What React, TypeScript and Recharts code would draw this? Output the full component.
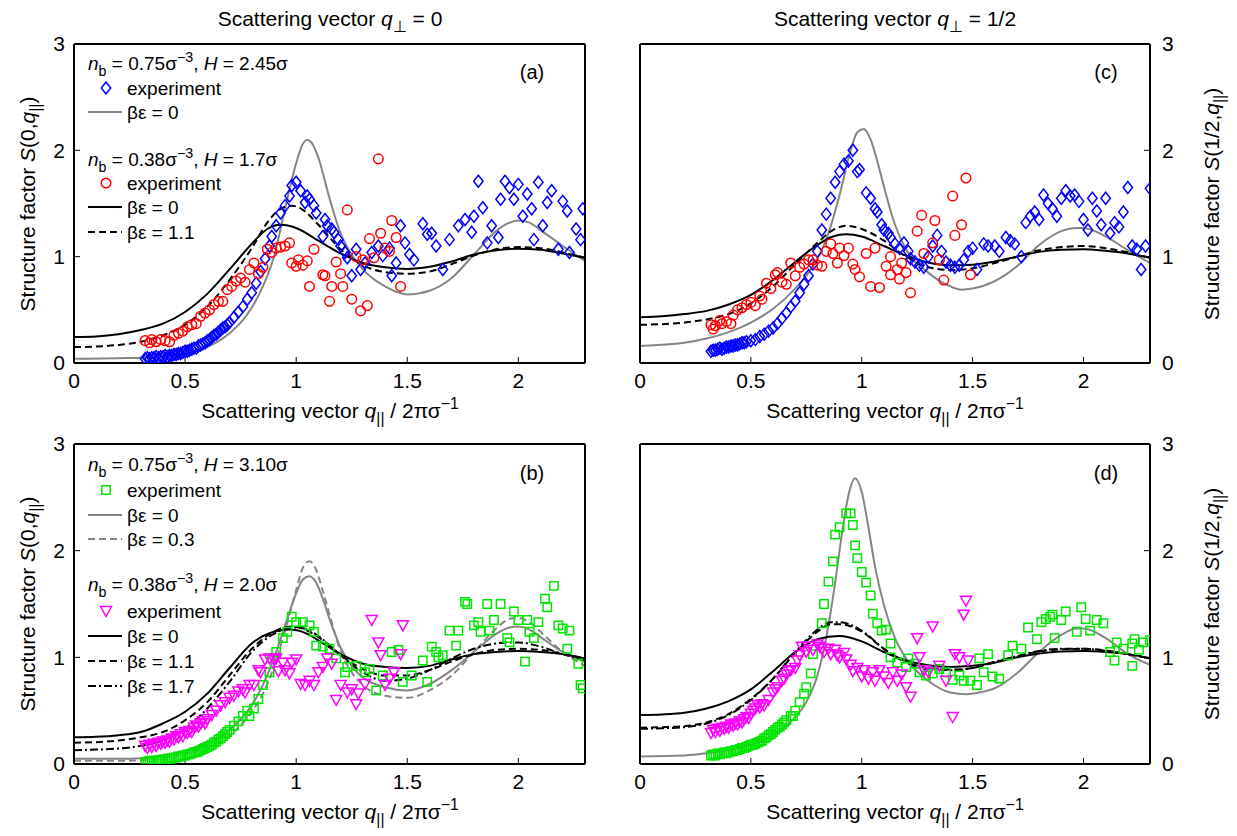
import React from "react";
import { ComposedChart, Line, Scatter, XAxis, YAxis } from "recharts";

type Pt = [number, number];

const FONT = '"Liberation Sans", Arial, Helvetica, sans-serif';

const xTicks = [0, 0.5, 1, 1.5, 2];
const yTicks = [0, 1, 2, 3];
const xDomain: [number, number] = [0, 2.3];
const yDomain: [number, number] = [0, 3];

// ---- (a) q_perp = 0, top row ----
const aGray: Pt[] = [[0,0.04],[0.2,0.045],[0.3,0.05],[0.4,0.065],[0.5,0.09],[0.6,0.15],[0.7,0.28],[0.75,0.38],[0.8,0.52],[0.85,0.72],[0.9,1.0],[0.95,1.45],[1.0,1.88],[1.03,2.06],[1.05,2.1],[1.07,2.07],[1.1,1.93],[1.15,1.55],[1.2,1.22],[1.25,1.02],[1.3,0.88],[1.4,0.72],[1.5,0.645],[1.6,0.68],[1.7,0.8],[1.8,1.02],[1.9,1.24],[1.95,1.31],[2.0,1.34],[2.05,1.32],[2.1,1.25],[2.2,1.1],[2.3,0.96]];
const aBlack: Pt[] = [[0,0.245],[0.1,0.25],[0.2,0.27],[0.3,0.31],[0.4,0.37],[0.5,0.48],[0.6,0.65],[0.7,0.88],[0.8,1.12],[0.87,1.26],[0.93,1.3],[1.0,1.27],[1.1,1.15],[1.2,1.03],[1.3,0.94],[1.4,0.9],[1.5,0.885],[1.6,0.905],[1.7,0.955],[1.8,1.02],[1.9,1.06],[2.0,1.075],[2.1,1.065],[2.2,1.03],[2.3,0.99]];
const aDash: Pt[] = [[0,0.15],[0.1,0.155],[0.2,0.17],[0.3,0.2],[0.4,0.26],[0.5,0.36],[0.6,0.53],[0.7,0.78],[0.8,1.08],[0.87,1.32],[0.93,1.45],[0.98,1.48],[1.03,1.44],[1.1,1.3],[1.2,1.07],[1.3,0.92],[1.4,0.855],[1.5,0.84],[1.6,0.86],[1.7,0.93],[1.8,1.01],[1.9,1.07],[2.0,1.09],[2.1,1.08],[2.2,1.04],[2.3,0.99]];
const aBlue: Pt[] = [[0.32,0.04],[0.33,0.05],[0.34,0.04],[0.35,0.05],[0.36,0.05],[0.37,0.06],[0.38,0.05],[0.39,0.06],[0.4,0.06],[0.41,0.07],[0.42,0.06],[0.43,0.07],[0.44,0.07],[0.45,0.08],[0.46,0.08],[0.47,0.09],[0.48,0.09],[0.49,0.1],[0.5,0.11],[0.51,0.11],[0.52,0.12],[0.53,0.13],[0.54,0.14],[0.55,0.14],[0.56,0.16],[0.57,0.17],[0.58,0.18],[0.59,0.19],[0.6,0.21],[0.61,0.22],[0.62,0.24],[0.63,0.26],[0.64,0.27],[0.65,0.29],[0.66,0.31],[0.67,0.33],[0.68,0.34],[0.69,0.36],[0.7,0.38],[0.72,0.43],[0.74,0.48],[0.76,0.53],[0.78,0.6],[0.8,0.66],[0.82,0.75],[0.84,0.86],[0.86,0.98],[0.88,1.1],[0.89,1.19],[0.91,1.29],[0.93,1.41],[0.95,1.48],[0.97,1.57],[0.98,1.67],[1.0,1.7],[1.02,1.62],[1.04,1.51],[1.05,1.57],[1.06,1.54],[1.08,1.48],[1.09,1.41],[1.12,1.19],[1.13,1.35],[1.14,1.29],[1.16,1.26],[1.17,1.23],[1.19,1.16],[1.2,1.1],[1.22,1.04],[1.23,0.99],[1.25,0.82],[1.27,1.07],[1.29,0.88],[1.31,0.94],[1.34,1.04],[1.37,1.1],[1.39,1.01],[1.42,1.08],[1.43,0.82],[1.45,0.94],[1.47,1.29],[1.49,1.13],[1.51,1.02],[1.53,0.97],[1.57,1.31],[1.59,1.21],[1.61,1.22],[1.63,1.1],[1.66,0.88],[1.69,1.16],[1.73,1.29],[1.76,1.35],[1.79,1.23],[1.8,1.38],[1.82,1.71],[1.84,1.46],[1.86,1.13],[1.88,1.29],[1.91,1.18],[1.92,1.54],[1.94,1.71],[1.96,1.65],[1.98,1.54],[2.0,1.68],[2.02,1.38],[2.04,1.59],[2.06,1.45],[2.07,1.16],[2.09,1.7],[2.11,1.29],[2.13,1.51],[2.15,1.62],[2.18,1.07],[2.2,1.52],[2.22,1.43],[2.23,1.04],[2.26,1.26],[2.28,1.16],[2.29,1.45]];
const aRed: Pt[] = [[0.32,0.21],[0.34,0.19],[0.35,0.22],[0.37,0.2],[0.39,0.22],[0.41,0.21],[0.43,0.2],[0.45,0.26],[0.47,0.28],[0.49,0.3],[0.51,0.34],[0.53,0.36],[0.55,0.37],[0.57,0.44],[0.59,0.47],[0.61,0.5],[0.63,0.55],[0.65,0.58],[0.67,0.58],[0.69,0.69],[0.71,0.72],[0.73,0.77],[0.75,0.8],[0.77,0.76],[0.79,0.88],[0.81,0.94],[0.83,0.84],[0.85,0.9],[0.87,1.07],[0.89,1.04],[0.91,1.08],[0.93,1.09],[0.95,1.1],[0.97,1.13],[0.98,0.94],[1.0,0.91],[1.01,0.97],[1.03,0.92],[1.05,0.96],[1.06,0.72],[1.08,1.07],[1.12,0.83],[1.13,0.82],[1.15,0.58],[1.16,0.72],[1.18,0.95],[1.2,0.84],[1.21,0.72],[1.23,1.44],[1.25,0.6],[1.27,1.0],[1.29,0.49],[1.3,0.97],[1.32,0.54],[1.33,1.17],[1.35,0.99],[1.37,1.92],[1.38,1.22],[1.4,1.08],[1.42,1.05],[1.43,1.34],[1.45,1.18],[1.47,0.72]];

// ---- (c) q_perp = 1/2, top row ----
const cGray: Pt[] = [[0,0.16],[0.2,0.19],[0.3,0.23],[0.4,0.29],[0.5,0.38],[0.6,0.51],[0.7,0.7],[0.75,0.82],[0.8,0.98],[0.85,1.22],[0.9,1.58],[0.95,2.0],[0.98,2.17],[1.01,2.2],[1.04,2.1],[1.07,1.9],[1.1,1.66],[1.15,1.3],[1.2,1.07],[1.3,0.85],[1.4,0.72],[1.45,0.69],[1.5,0.7],[1.6,0.77],[1.7,0.91],[1.8,1.11],[1.9,1.24],[1.97,1.27],[2.0,1.27],[2.1,1.19],[2.2,1.06],[2.3,0.94]];
const cBlack: Pt[] = [[0,0.43],[0.1,0.44],[0.2,0.46],[0.3,0.49],[0.4,0.55],[0.5,0.64],[0.6,0.78],[0.7,0.95],[0.8,1.11],[0.87,1.19],[0.93,1.21],[1.0,1.19],[1.1,1.1],[1.2,1.01],[1.3,0.945],[1.4,0.92],[1.5,0.925],[1.6,0.955],[1.7,1.0],[1.8,1.045],[1.9,1.065],[2.0,1.07],[2.1,1.055],[2.2,1.03],[2.3,0.99]];
const cDash: Pt[] = [[0,0.36],[0.1,0.365],[0.2,0.38],[0.3,0.41],[0.4,0.46],[0.5,0.56],[0.6,0.72],[0.7,0.93],[0.8,1.13],[0.87,1.25],[0.93,1.29],[1.0,1.26],[1.1,1.15],[1.2,1.0],[1.3,0.9],[1.4,0.875],[1.5,0.89],[1.6,0.94],[1.7,1.0],[1.8,1.06],[1.9,1.09],[2.0,1.1],[2.1,1.08],[2.2,1.04],[2.3,0.99]];
const cBlue: Pt[] = [[0.32,0.11],[0.33,0.12],[0.34,0.12],[0.35,0.13],[0.36,0.14],[0.37,0.13],[0.38,0.14],[0.39,0.15],[0.4,0.15],[0.41,0.16],[0.42,0.16],[0.43,0.17],[0.44,0.17],[0.45,0.18],[0.46,0.19],[0.47,0.19],[0.48,0.2],[0.5,0.21],[0.52,0.22],[0.54,0.25],[0.56,0.27],[0.58,0.3],[0.6,0.33],[0.62,0.37],[0.64,0.42],[0.66,0.47],[0.68,0.53],[0.7,0.58],[0.72,0.66],[0.74,0.74],[0.76,0.82],[0.78,0.93],[0.8,1.05],[0.82,1.25],[0.84,1.4],[0.86,1.55],[0.88,1.7],[0.9,1.8],[0.92,1.87],[0.94,1.9],[0.96,2.0],[0.98,1.8],[0.99,1.82],[1.02,1.6],[1.04,1.55],[1.06,1.45],[1.07,1.42],[1.09,1.3],[1.1,1.25],[1.12,1.22],[1.13,1.18],[1.15,1.12],[1.17,1.08],[1.19,1.13],[1.21,1.05],[1.22,0.98],[1.24,0.95],[1.26,0.92],[1.28,0.9],[1.3,1.0],[1.32,1.1],[1.34,1.2],[1.36,1.05],[1.38,0.95],[1.4,0.92],[1.42,0.9],[1.44,0.92],[1.46,0.97],[1.48,1.05],[1.5,1.08],[1.52,0.88],[1.55,1.12],[1.57,1.1],[1.6,1.1],[1.62,1.05],[1.65,1.18],[1.67,1.15],[1.69,1.12],[1.72,1.0],[1.74,1.32],[1.76,1.38],[1.78,1.42],[1.8,1.35],[1.82,1.58],[1.84,1.5],[1.86,1.45],[1.88,1.38],[1.9,1.55],[1.92,1.62],[1.94,1.57],[1.96,1.58],[1.98,1.52],[2.0,1.35],[2.02,1.25],[2.04,1.55],[2.06,1.43],[2.08,1.3],[2.1,1.55],[2.12,1.22],[2.14,1.32],[2.16,1.28],[2.18,1.42],[2.2,1.65],[2.22,1.1],[2.24,1.07],[2.26,0.88],[2.28,1.1],[2.3,1.64]];
const cRed: Pt[] = [[0.32,0.36],[0.33,0.32],[0.34,0.35],[0.36,0.4],[0.37,0.37],[0.39,0.39],[0.41,0.37],[0.42,0.45],[0.44,0.5],[0.46,0.52],[0.48,0.55],[0.5,0.57],[0.52,0.54],[0.54,0.63],[0.55,0.6],[0.57,0.75],[0.59,0.7],[0.61,0.83],[0.62,0.85],[0.64,0.76],[0.66,0.74],[0.68,0.94],[0.7,0.82],[0.72,0.9],[0.74,0.93],[0.76,0.97],[0.78,0.97],[0.8,0.92],[0.82,0.91],[0.84,1.05],[0.86,1.12],[0.87,1.03],[0.89,0.94],[0.9,1.08],[0.92,1.01],[0.94,1.08],[0.96,0.93],[0.97,0.88],[0.99,0.81],[1.02,1.03],[1.04,0.72],[1.06,1.08],[1.08,0.71],[1.11,0.91],[1.13,0.83],[1.13,1.0],[1.16,0.88],[1.17,0.79],[1.18,0.94],[1.2,0.85],[1.22,0.66],[1.25,1.24],[1.27,1.39],[1.28,1.03],[1.32,1.13],[1.33,1.34],[1.35,0.97],[1.37,0.78],[1.41,1.57],[1.42,1.2],[1.45,1.3],[1.47,1.74],[1.49,0.83]];

// ---- (b) q_perp = 0, bottom row ----
const bGray: Pt[] = [[0,0.05],[0.2,0.05],[0.3,0.055],[0.4,0.08],[0.5,0.12],[0.6,0.19],[0.7,0.32],[0.75,0.42],[0.8,0.55],[0.85,0.74],[0.9,0.99],[0.95,1.3],[1.0,1.6],[1.03,1.73],[1.06,1.76],[1.09,1.7],[1.12,1.55],[1.15,1.36],[1.2,1.09],[1.25,0.92],[1.3,0.81],[1.4,0.72],[1.5,0.69],[1.6,0.75],[1.7,0.88],[1.8,1.05],[1.9,1.22],[1.96,1.28],[2.0,1.29],[2.05,1.26],[2.1,1.19],[2.2,1.05],[2.3,0.96]];
const bGrayDash: Pt[] = [[0,0.03],[0.2,0.03],[0.3,0.035],[0.4,0.06],[0.5,0.1],[0.6,0.16],[0.7,0.27],[0.75,0.36],[0.8,0.49],[0.85,0.66],[0.9,0.91],[0.95,1.25],[1.0,1.63],[1.03,1.84],[1.06,1.9],[1.09,1.82],[1.12,1.62],[1.15,1.4],[1.2,1.06],[1.25,0.86],[1.3,0.74],[1.4,0.64],[1.5,0.62],[1.6,0.69],[1.7,0.83],[1.8,1.05],[1.9,1.27],[1.96,1.36],[2.0,1.37],[2.05,1.33],[2.1,1.24],[2.2,1.05],[2.3,0.92]];
const bBlack: Pt[] = [[0,0.25],[0.1,0.255],[0.2,0.27],[0.3,0.3],[0.4,0.38],[0.5,0.49],[0.6,0.66],[0.7,0.9],[0.8,1.13],[0.9,1.24],[0.97,1.26],[1.05,1.22],[1.1,1.16],[1.2,1.03],[1.3,0.94],[1.4,0.91],[1.5,0.9],[1.6,0.92],[1.7,0.98],[1.8,1.03],[1.9,1.05],[2.0,1.06],[2.1,1.05],[2.2,1.03],[2.3,0.99]];
const bDash: Pt[] = [[0,0.2],[0.1,0.205],[0.2,0.22],[0.3,0.25],[0.4,0.3],[0.5,0.41],[0.6,0.58],[0.7,0.83],[0.8,1.08],[0.9,1.24],[0.98,1.29],[1.05,1.25],[1.1,1.19],[1.2,1.02],[1.3,0.89],[1.4,0.83],[1.5,0.83],[1.6,0.88],[1.7,0.96],[1.8,1.03],[1.9,1.07],[2.0,1.08],[2.1,1.07],[2.2,1.03],[2.3,0.99]];
const bDashDot: Pt[] = [[0,0.13],[0.1,0.135],[0.2,0.145],[0.3,0.17],[0.4,0.22],[0.5,0.33],[0.6,0.52],[0.7,0.77],[0.8,1.05],[0.9,1.22],[1.0,1.28],[1.05,1.26],[1.1,1.2],[1.2,1.02],[1.3,0.86],[1.4,0.78],[1.5,0.8],[1.6,0.88],[1.7,0.99],[1.8,1.08],[1.9,1.13],[1.95,1.14],[2.0,1.14],[2.1,1.1],[2.2,1.03],[2.3,0.97]];
const bGreen: Pt[] = [[0.32,0.02],[0.33,0.02],[0.34,0.03],[0.35,0.02],[0.36,0.03],[0.37,0.03],[0.38,0.03],[0.39,0.04],[0.4,0.04],[0.41,0.04],[0.42,0.05],[0.43,0.05],[0.44,0.05],[0.45,0.06],[0.46,0.06],[0.47,0.07],[0.48,0.07],[0.49,0.08],[0.5,0.08],[0.51,0.09],[0.52,0.09],[0.53,0.1],[0.54,0.11],[0.55,0.11],[0.56,0.12],[0.57,0.13],[0.58,0.14],[0.59,0.15],[0.6,0.16],[0.61,0.17],[0.62,0.18],[0.63,0.2],[0.64,0.21],[0.65,0.23],[0.66,0.24],[0.67,0.26],[0.68,0.28],[0.69,0.3],[0.7,0.32],[0.72,0.36],[0.74,0.4],[0.76,0.45],[0.78,0.5],[0.79,0.45],[0.81,0.52],[0.83,0.61],[0.85,0.74],[0.88,0.86],[0.89,0.99],[0.91,1.05],[0.94,1.18],[0.96,1.24],[0.98,1.38],[1.0,1.33],[1.03,1.33],[1.06,1.3],[1.08,1.24],[1.09,1.11],[1.12,1.1],[1.15,1.08],[1.18,0.99],[1.22,0.86],[1.23,0.91],[1.27,0.92],[1.31,0.86],[1.33,0.89],[1.36,0.69],[1.39,0.83],[1.43,1.05],[1.46,1.07],[1.48,0.77],[1.52,0.83],[1.57,0.97],[1.59,0.77],[1.61,1.1],[1.63,1.05],[1.64,1.0],[1.66,1.02],[1.69,1.25],[1.72,1.11],[1.73,1.25],[1.76,1.52],[1.77,1.5],[1.8,1.3],[1.82,1.33],[1.83,1.24],[1.86,1.5],[1.87,1.25],[1.89,1.35],[1.92,1.5],[1.95,1.18],[1.96,1.14],[1.98,1.43],[2.0,1.35],[2.03,0.96],[2.04,1.35],[2.05,1.24],[2.07,1.18],[2.09,1.33],[2.12,1.55],[2.13,1.47],[2.16,1.67],[2.18,1.3],[2.2,1.27],[2.22,1.08],[2.23,1.25],[2.27,0.94],[2.28,0.74],[2.29,0.71]];
const bMagenta: Pt[] = [[0.32,0.17],[0.33,0.15],[0.34,0.18],[0.35,0.16],[0.36,0.19],[0.37,0.17],[0.38,0.2],[0.39,0.19],[0.4,0.21],[0.41,0.2],[0.42,0.22],[0.43,0.21],[0.44,0.24],[0.45,0.23],[0.46,0.26],[0.47,0.25],[0.48,0.28],[0.49,0.26],[0.5,0.3],[0.51,0.29],[0.52,0.31],[0.53,0.3],[0.54,0.34],[0.55,0.36],[0.56,0.35],[0.57,0.38],[0.58,0.4],[0.59,0.38],[0.6,0.42],[0.62,0.46],[0.64,0.5],[0.66,0.55],[0.68,0.58],[0.7,0.62],[0.72,0.64],[0.74,0.68],[0.76,0.7],[0.77,0.67],[0.79,0.74],[0.81,0.74],[0.83,0.88],[0.84,0.86],[0.86,0.98],[0.88,0.99],[0.9,0.98],[0.91,0.99],[0.92,0.87],[0.94,0.95],[0.95,0.88],[0.97,0.85],[0.98,0.95],[1.0,0.98],[1.02,0.75],[1.04,0.74],[1.06,0.78],[1.08,0.74],[1.1,0.86],[1.12,0.91],[1.14,0.99],[1.16,0.94],[1.18,0.6],[1.2,0.74],[1.23,0.67],[1.25,0.7],[1.27,0.56],[1.28,0.66],[1.31,0.75],[1.34,1.35],[1.37,1.14],[1.38,1.02],[1.4,0.74],[1.42,0.8],[1.44,0.86],[1.47,1.03],[1.48,1.3]];

// ---- (d) q_perp = 1/2, bottom row ----
const dGray: Pt[] = [[0,0.07],[0.2,0.08],[0.3,0.1],[0.4,0.13],[0.5,0.18],[0.6,0.27],[0.7,0.44],[0.75,0.58],[0.8,0.83],[0.85,1.3],[0.88,1.7],[0.91,2.15],[0.94,2.52],[0.97,2.68],[1.0,2.55],[1.03,2.22],[1.06,1.85],[1.1,1.49],[1.15,1.18],[1.2,0.99],[1.3,0.78],[1.4,0.67],[1.47,0.655],[1.55,0.68],[1.6,0.71],[1.7,0.85],[1.8,1.05],[1.9,1.21],[1.97,1.27],[2.0,1.27],[2.1,1.18],[2.2,1.03],[2.3,0.93]];
const dBlack: Pt[] = [[0,0.46],[0.1,0.465],[0.2,0.48],[0.3,0.52],[0.4,0.59],[0.5,0.7],[0.6,0.87],[0.7,1.05],[0.8,1.17],[0.9,1.2],[1.0,1.15],[1.1,1.05],[1.2,0.97],[1.3,0.925],[1.4,0.91],[1.5,0.92],[1.6,0.95],[1.7,1.0],[1.8,1.035],[1.9,1.055],[2.0,1.06],[2.1,1.05],[2.2,1.03],[2.3,0.99]];
const dDash: Pt[] = [[0,0.34],[0.1,0.345],[0.2,0.355],[0.3,0.39],[0.4,0.47],[0.5,0.61],[0.6,0.8],[0.7,1.04],[0.8,1.24],[0.86,1.31],[0.9,1.31],[1.0,1.24],[1.1,1.08],[1.2,0.96],[1.3,0.9],[1.4,0.885],[1.5,0.9],[1.6,0.955],[1.7,1.01],[1.8,1.055],[1.9,1.075],[2.0,1.08],[2.1,1.065],[2.2,1.03],[2.3,0.99]];
const dDashDot: Pt[] = [[0,0.33],[0.1,0.335],[0.2,0.345],[0.3,0.38],[0.4,0.46],[0.5,0.6],[0.6,0.8],[0.7,1.05],[0.8,1.26],[0.86,1.33],[0.9,1.33],[1.0,1.25],[1.1,1.08],[1.2,0.95],[1.3,0.89],[1.4,0.88],[1.5,0.9],[1.6,0.96],[1.7,1.01],[1.8,1.06],[1.9,1.08],[2.0,1.08],[2.1,1.06],[2.2,1.03],[2.3,0.99]];
const dGreen: Pt[] = [[0.32,0.08],[0.33,0.09],[0.34,0.08],[0.35,0.1],[0.36,0.09],[0.37,0.1],[0.38,0.11],[0.39,0.1],[0.4,0.11],[0.41,0.12],[0.42,0.12],[0.43,0.13],[0.44,0.13],[0.45,0.14],[0.46,0.15],[0.47,0.15],[0.48,0.16],[0.49,0.17],[0.5,0.18],[0.51,0.18],[0.52,0.19],[0.53,0.2],[0.54,0.21],[0.55,0.22],[0.56,0.24],[0.57,0.25],[0.58,0.27],[0.59,0.28],[0.6,0.3],[0.61,0.32],[0.62,0.34],[0.63,0.35],[0.64,0.37],[0.65,0.39],[0.66,0.41],[0.68,0.45],[0.69,0.45],[0.7,0.5],[0.72,0.58],[0.74,0.66],[0.75,0.72],[0.77,0.85],[0.78,1.03],[0.82,1.32],[0.83,1.5],[0.85,1.71],[0.87,1.9],[0.88,2.15],[0.9,2.22],[0.93,2.35],[0.95,2.35],[0.96,2.24],[0.97,2.05],[0.98,1.93],[1.0,1.8],[1.02,1.7],[1.04,1.58],[1.05,1.41],[1.07,1.32],[1.09,1.25],[1.11,1.26],[1.13,1.13],[1.13,1.0],[1.16,0.95],[1.2,0.91],[1.21,0.99],[1.24,0.94],[1.26,0.86],[1.29,0.83],[1.32,0.85],[1.35,0.89],[1.38,0.86],[1.41,0.79],[1.44,0.83],[1.46,0.78],[1.49,0.78],[1.52,0.74],[1.53,0.99],[1.55,0.86],[1.57,1.03],[1.59,0.82],[1.62,0.8],[1.66,1.02],[1.68,1.11],[1.72,1.08],[1.75,1.28],[1.79,1.17],[1.81,1.33],[1.83,1.36],[1.85,1.38],[1.86,1.4],[1.87,1.18],[1.9,1.35],[1.92,1.43],[1.97,1.24],[1.99,1.47],[2.01,1.36],[2.03,1.25],[2.06,1.35],[2.09,1.32],[2.12,1.05],[2.14,0.97],[2.15,1.14],[2.18,1.08],[2.22,0.92],[2.22,1.13],[2.23,1.17],[2.25,1.07],[2.27,1.14],[2.3,1.16]];
const dMagenta: Pt[] = [[0.32,0.29],[0.33,0.32],[0.34,0.3],[0.35,0.33],[0.36,0.31],[0.37,0.34],[0.38,0.33],[0.39,0.35],[0.4,0.34],[0.41,0.37],[0.42,0.36],[0.43,0.38],[0.44,0.37],[0.45,0.4],[0.46,0.39],[0.47,0.42],[0.48,0.44],[0.49,0.43],[0.5,0.47],[0.51,0.5],[0.52,0.52],[0.53,0.55],[0.54,0.53],[0.55,0.56],[0.56,0.55],[0.58,0.6],[0.6,0.67],[0.61,0.7],[0.62,0.72],[0.64,0.78],[0.65,0.8],[0.66,0.84],[0.67,0.87],[0.68,0.88],[0.7,0.9],[0.71,0.97],[0.72,1.02],[0.73,1.1],[0.75,1.05],[0.76,1.1],[0.78,1.07],[0.8,1.12],[0.81,1.1],[0.82,1.08],[0.83,1.05],[0.85,1.08],[0.86,1.03],[0.88,1.07],[0.89,1.02],[0.9,1.0],[0.92,1.04],[0.93,0.98],[0.95,0.93],[0.96,0.87],[0.98,0.9],[1.0,0.82],[1.01,0.88],[1.03,0.8],[1.05,0.86],[1.06,0.78],[1.08,0.88],[1.1,0.82],[1.12,0.76],[1.14,0.86],[1.16,0.78],[1.18,0.84],[1.2,0.72],[1.22,0.63],[1.25,1.18],[1.26,1.0],[1.28,0.88],[1.3,0.86],[1.32,1.29],[1.35,0.92],[1.38,0.78],[1.41,0.44],[1.42,1.03],[1.44,1.0],[1.46,1.4],[1.47,1.53],[1.48,0.97]];

const GRAY = "#858585";
const BLUE = "#0000ff";
const RED = "#ff0000";
const GREEN = "#00e600";
const MAGENTA = "#ff00ff";
const DASH = "7 4";
const DASHDOT = "8 3 2 3";

type Kind = "diamond" | "circle" | "square" | "tri";
type Curve = { data: Pt[]; color: string; dash?: string };
type Marks = { data: Pt[]; kind: Kind; color: string };

const toXY = (p: Pt[]) => p.map(([x, y]) => ({ x, y }));

function markerPath(kind: Kind, cx: number, cy: number) {
  switch (kind) {
    case "diamond":
      return `M${cx},${cy - 6}L${cx + 4.7},${cy}L${cx},${cy + 6}L${cx - 4.7},${cy}Z`;
    case "square":
      return `M${cx - 4.2},${cy - 4.2}h8.4v8.4h-8.4Z`;
    case "tri":
      return `M${cx - 5.5},${cy - 4.5}L${cx + 5.5},${cy - 4.5}L${cx},${cy + 5.5}Z`;
    default:
      return `M${cx - 4.8},${cy}a4.8,4.8 0 1,0 9.6,0a4.8,4.8 0 1,0 -9.6,0Z`;
  }
}

function Marker({ kind, color, cx, cy }: { kind: Kind; color: string; cx: number; cy: number }) {
  if (cx == null || cy == null || isNaN(cx) || isNaN(cy)) return null;
  return <path d={markerPath(kind, cx, cy)} fill="none" stroke={color} strokeWidth={1.5} />;
}

const tickStyle = { fontSize: 21, fill: "#000", fontFamily: FONT };
const frame = { stroke: "#000", strokeWidth: 2 };

function Panel({
  left, top, plotH, side, curves, marks,
}: { left: number; top: number; plotH: number; side: "left" | "right"; curves: Curve[]; marks: Marks[] }) {
  const isLeft = side === "left";
  const width = isLeft ? 620 : 617;
  const height = 44 + plotH + 37;
  const margin = isLeft
    ? { top: 43, right: 34, bottom: 0, left: 0 }
    : { top: 43, right: 27, bottom: 0, left: 19 };
  return (
    <div style={{ position: "absolute", left, top, width, height }}>
      <ComposedChart width={width} height={height} margin={margin}>
        <XAxis
          xAxisId="b" dataKey="x" type="number" domain={xDomain} ticks={xTicks}
          allowDataOverflow height={37} tickSize={-6} tickMargin={16}
          axisLine={frame} tickLine={{ stroke: "#000" }} tick={tickStyle}
        />
        <XAxis
          xAxisId="t" orientation="top" dataKey="x" type="number" domain={xDomain} ticks={xTicks}
          allowDataOverflow height={1} tickSize={-6} tick={false}
          axisLine={frame} tickLine={{ stroke: "#000" }}
        />
        <YAxis
          yAxisId="l" orientation="left" type="number" domain={yDomain} ticks={yTicks}
          allowDataOverflow width={isLeft ? 74 : 1} tickSize={-6} tickMargin={15}
          tick={isLeft ? tickStyle : false}
          axisLine={frame} tickLine={{ stroke: "#000" }}
        />
        <YAxis
          yAxisId="r" orientation="right" type="number" domain={yDomain} ticks={yTicks}
          allowDataOverflow width={isLeft ? 1 : 60} tickSize={-6} tickMargin={18}
          tick={isLeft ? false : tickStyle}
          axisLine={frame} tickLine={{ stroke: "#000" }}
        />
        {marks.map((m, i) => (
          <Scatter
            key={"m" + i}
            xAxisId="b"
            yAxisId="l"
            data={toXY(m.data)}
            dataKey="y"
            isAnimationActive={false}
            shape={(p: any) => <Marker kind={m.kind} color={m.color} cx={p.cx} cy={p.cy} />}
          />
        ))}
        {curves.map((c, i) => (
          <Line
            key={"c" + i}
            xAxisId="b"
            yAxisId="l"
            data={toXY(c.data)}
            dataKey="y"
            type="monotone"
            stroke={c.color}
            strokeWidth={2}
            strokeDasharray={c.dash}
            dot={false}
            activeDot={false}
            isAnimationActive={false}
          />
        ))}
      </ComposedChart>
    </div>
  );
}

const Sub = ({ children }: { children: React.ReactNode }) => (
  <span style={{ fontSize: "0.75em", position: "relative", top: "0.4em" }}>{children}</span>
);
const Sup = ({ children }: { children: React.ReactNode }) => (
  <span style={{ fontSize: "0.75em", position: "relative", top: "-0.55em" }}>{children}</span>
);

function Txt({ x, y, size = 19, center = false, rotate = false, children }: {
  x: number; y: number; size?: number; center?: boolean; rotate?: boolean; children: React.ReactNode;
}) {
  const tf = rotate
    ? "translate(-50%,-50%) rotate(-90deg)"
    : center ? "translate(-50%,-50%)" : "translateY(-50%)";
  return (
    <div
      style={{
        position: "absolute", left: x, top: y, transform: tf, whiteSpace: "nowrap",
        fontFamily: FONT, fontSize: size, lineHeight: 1, color: "#000",
      }}
    >
      {children}
    </div>
  );
}

type Sample = { dash?: string; kind?: Kind; color: string };

function LegendRow({ x, y, s, children }: { x: number; y: number; s: Sample; children: React.ReactNode }) {
  return (
    <>
      <svg style={{ position: "absolute", left: x, top: y - 10 }} width={36} height={20}>
        {s.kind ? (
          <Marker kind={s.kind} color={s.color} cx={18} cy={10} />
        ) : (
          <line x1={0} x2={34} y1={10} y2={10} stroke={s.color} strokeWidth={2} strokeDasharray={s.dash} />
        )}
      </svg>
      <Txt x={x + 39} y={y}>{children}</Txt>
    </>
  );
}

const QPar = () => (<><i>q</i><Sub>||</Sub></>);

export default function App() {
  const lx = 88;
  return (
    <div style={{ position: "absolute", left: 0, top: 0, width: 1237, height: 836, background: "#fff", overflow: "hidden" }}>
      <Panel left={0} top={0} plotH={319} side="left"
        marks={[{ data: aBlue, kind: "diamond", color: BLUE }, { data: aRed, kind: "circle", color: RED }]}
        curves={[{ data: aGray, color: GRAY }, { data: aDash, color: "#000", dash: DASH }, { data: aBlack, color: "#000" }]} />
      <Panel left={620} top={0} plotH={319} side="right"
        marks={[{ data: cBlue, kind: "diamond", color: BLUE }, { data: cRed, kind: "circle", color: RED }]}
        curves={[{ data: cGray, color: GRAY }, { data: cDash, color: "#000", dash: DASH }, { data: cBlack, color: "#000" }]} />
      <Panel left={0} top={400} plotH={320} side="left"
        marks={[{ data: bGreen, kind: "square", color: GREEN }, { data: bMagenta, kind: "tri", color: MAGENTA }]}
        curves={[{ data: bGrayDash, color: GRAY, dash: DASH }, { data: bGray, color: GRAY }, { data: bDashDot, color: "#000", dash: DASHDOT }, { data: bDash, color: "#000", dash: DASH }, { data: bBlack, color: "#000" }]} />
      <Panel left={620} top={400} plotH={320} side="right"
        marks={[{ data: dGreen, kind: "square", color: GREEN }, { data: dMagenta, kind: "tri", color: MAGENTA }]}
        curves={[{ data: dGray, color: GRAY }, { data: dDash, color: "#000", dash: DASH }, { data: dDashDot, color: "#000", dash: DASHDOT }, { data: dBlack, color: "#000" }]} />

      {/* column titles */}
      <Txt x={330} y={18} center size={21}>Scattering vector <i>q</i><Sub>⊥</Sub> = 0</Txt>
      <Txt x={895} y={18} center size={21}>Scattering vector <i>q</i><Sub>⊥</Sub> = 1/2</Txt>

      {/* axis titles */}
      {[330, 895].map((cx) => [410, 811].map((cy) => (
        <Txt key={cx + "-" + cy} x={cx} y={cy} center size={21}>
          Scattering vector <QPar /> / 2πσ<Sup>−1</Sup>
        </Txt>
      )))}
      <Txt x={27} y={204} rotate size={21}>Structure factor <i>S</i>(0,<QPar />)</Txt>
      <Txt x={27} y={604} rotate size={21}>Structure factor <i>S</i>(0,<QPar />)</Txt>
      <Txt x={1211} y={204} rotate size={21}>Structure factor <i>S</i>(1/2,<QPar />)</Txt>
      <Txt x={1211} y={604} rotate size={21}>Structure factor <i>S</i>(1/2,<QPar />)</Txt>

      {/* panel letters */}
      <Txt x={532} y={72} center size={20}>(a)</Txt>
      <Txt x={1106} y={72} center size={20}>(c)</Txt>
      <Txt x={532} y={473} center size={20}>(b)</Txt>
      <Txt x={1106} y={473} center size={20}>(d)</Txt>

      {/* legend (a) */}
      <Txt x={lx} y={63}><i>n</i><Sub>b</Sub> = 0.75σ<Sup>−3</Sup>, <i>H</i> = 2.45σ</Txt>
      <LegendRow x={lx} y={88} s={{ kind: "diamond", color: BLUE }}>experiment</LegendRow>
      <LegendRow x={lx} y={112} s={{ color: GRAY }}>βε = 0</LegendRow>
      <Txt x={lx} y={159}><i>n</i><Sub>b</Sub> = 0.38σ<Sup>−3</Sup>, <i>H</i> = 1.7σ</Txt>
      <LegendRow x={lx} y={183} s={{ kind: "circle", color: RED }}>experiment</LegendRow>
      <LegendRow x={lx} y={207} s={{ color: "#000" }}>βε = 0</LegendRow>
      <LegendRow x={lx} y={232} s={{ color: "#000", dash: DASH }}>βε = 1.1</LegendRow>

      {/* legend (b) */}
      <Txt x={lx} y={464}><i>n</i><Sub>b</Sub> = 0.75σ<Sup>−3</Sup>, <i>H</i> = 3.10σ</Txt>
      <LegendRow x={lx} y={490} s={{ kind: "square", color: GREEN }}>experiment</LegendRow>
      <LegendRow x={lx} y={515} s={{ color: GRAY }}>βε = 0</LegendRow>
      <LegendRow x={lx} y={539} s={{ color: GRAY, dash: DASH }}>βε = 0.3</LegendRow>
      <Txt x={lx} y={584}><i>n</i><Sub>b</Sub> = 0.38σ<Sup>−3</Sup>, <i>H</i> = 2.0σ</Txt>
      <LegendRow x={lx} y={611} s={{ kind: "tri", color: MAGENTA }}>experiment</LegendRow>
      <LegendRow x={lx} y={636} s={{ color: "#000" }}>βε = 0</LegendRow>
      <LegendRow x={lx} y={661} s={{ color: "#000", dash: DASH }}>βε = 1.1</LegendRow>
      <LegendRow x={lx} y={686} s={{ color: "#000", dash: DASHDOT }}>βε = 1.7</LegendRow>
    </div>
  );
}
